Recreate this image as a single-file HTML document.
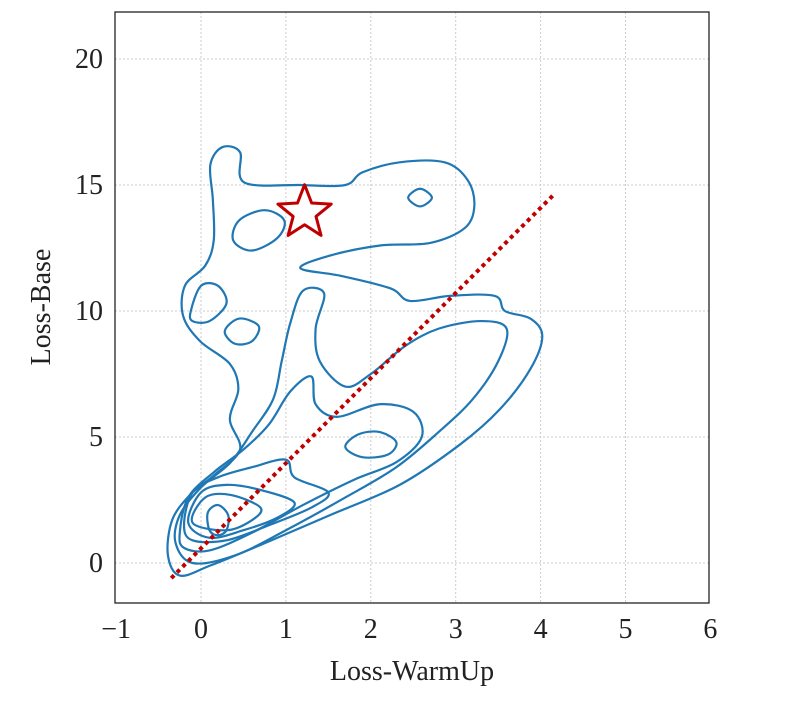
<!DOCTYPE html>
<html><head><meta charset="utf-8"><style>
body{margin:0;background:#fff}
svg text{font-family:"Liberation Serif",serif;fill:#222}
</style></head><body>
<svg id="chart" width="794" height="699" viewBox="0 0 794 699" xmlns="http://www.w3.org/2000/svg">
<g id="grid"></g>
<g id="contours"></g>
<g id="overlay"></g>
<rect x="115" y="12" width="594" height="591" fill="none" stroke="#222" stroke-width="1.3"/>
<g id="ticks"></g>
<text x="412" y="680" font-size="28" text-anchor="middle">Loss-WarmUp</text>
<text transform="translate(50,307) rotate(-90)" font-size="28" text-anchor="middle">Loss-Base</text>
</svg>
<script>
const xTicks=[-1,0,1,2,3,4,5,6];
const yTicks=[0,5,10,15,20];
const lineStart=[-0.35,-0.6];
const lineEnd=[4.15,14.6];
const starPoint=[1.22,13.9];
const c1=[[-0.39,0.32],[-0.34,1.7],[-0.13,2.7],[0.16,3.5],[0.46,4.5],[0.34,5.7],[0.44,6.9],[0.34,7.9],[-0.01,8.8],[-0.21,9.8],[-0.19,11.0],[0.05,11.8],[0.15,12.8],[0.14,14.4],[0.11,15.8],[0.25,16.5],[0.46,16.3],[0.51,15.1],[1.17,15.0],[1.70,15.0],[1.90,15.5],[2.34,15.9],[2.87,15.9],[3.14,15.2],[3.22,14.2],[3.11,13.3],[2.70,12.7],[2.11,12.6],[1.52,12.2],[1.17,11.7],[1.64,11.4],[2.23,10.9],[2.46,10.4],[2.93,10.6],[3.46,10.6],[3.58,10.0],[3.88,9.7],[4.02,9.0],[3.88,7.7],[3.52,6.1],[3.05,4.7],[2.34,3.1],[1.52,1.9],[0.69,0.7],[0.11,-0.1],[-0.25,-0.5]];
const c2=[[-0.3,0.8],[-0.25,1.9],[0.0,3.0],[0.35,4.0],[0.6,5.2],[0.85,6.5],[0.95,8.0],[1.05,9.5],[1.2,10.8],[1.45,10.7],[1.35,9.3],[1.4,8.0],[1.7,7.0],[2.0,7.5],[2.4,8.6],[2.8,9.3],[3.3,9.6],[3.6,9.3],[3.5,8.0],[3.2,6.5],[2.8,5.2],[2.3,3.8],[1.7,2.6],[1.0,1.3],[0.4,0.3],[-0.1,0.0]];
const c3=[[-0.25,1.2],[-0.15,2.6],[0.15,3.6],[0.5,4.5],[0.8,5.5],[1.05,6.8],[1.3,7.4],[1.35,6.3],[1.6,5.8],[2.1,6.3],[2.5,6.0],[2.6,5.0],[2.3,4.0],[1.8,3.3],[1.2,2.3],[0.6,1.2],[0.1,0.5],[-0.2,0.6]];
const c4=[[1.7,4.6],[1.85,5.1],[2.1,5.2],[2.3,4.8],[2.2,4.3],[1.9,4.2]];
const c5=[[-0.2,1.5],[-0.1,2.8],[0.2,3.4],[0.6,3.8],[1.0,4.1],[1.1,3.4],[1.5,2.8],[1.3,2.2],[0.8,1.5],[0.3,0.9],[-0.1,0.9]];
const c6=[[-0.15,1.6],[0.0,2.8],[0.3,3.1],[0.7,2.9],[1.1,2.4],[0.9,1.8],[0.5,1.3],[0.1,1.0]];
const c7=[[-0.1,1.6],[0.05,2.6],[0.35,2.7],[0.7,2.2],[0.6,1.7],[0.3,1.3]];
const c8=[[0.1,1.3],[0.08,2.0],[0.2,2.3],[0.32,1.9],[0.3,1.3],[0.2,1.1]];
const c9=[[0.38,12.8],[0.45,13.6],[0.75,14.0],[0.98,13.6],[0.9,12.9],[0.6,12.4]];
const c10=[[2.44,14.5],[2.58,14.85],[2.72,14.5],[2.58,14.15]];
const c11=[[-0.12,10.0],[0.0,11.0],[0.2,11.0],[0.3,10.3],[0.1,9.6],[-0.1,9.6]];
const c12=[[0.28,9.2],[0.45,9.7],[0.68,9.4],[0.6,8.8],[0.4,8.7]];
const contours=[c1,c2,c3,c4,c5,c6,c7,c8,c9,c10,c11,c12];

const X=v=>201+(v)*84.9;
const Y=v=>563-v*25.2;
const NS="http://www.w3.org/2000/svg";
function mk(t,a,p){const e=document.createElementNS(NS,t);for(const k in a)e.setAttribute(k,a[k]);p.appendChild(e);return e;}
const grid=document.getElementById('grid'),ticks=document.getElementById('ticks');
xTicks.forEach(t=>{
 if(t>-1&&t<6){const l=mk('line',{x1:X(t),x2:X(t),y1:12,y2:603,stroke:'#ccc','stroke-dasharray':'2,2'},grid);
 
 }
 const tx=mk('text',{x:X(t),y:638,'font-size':28,'text-anchor':'middle'},ticks);
 tx.textContent=t<0?'\u2212'+Math.abs(t):t;
 
 
});
yTicks.forEach(t=>{
 const l=mk('line',{x1:115,x2:709,y1:Y(t),y2:Y(t),stroke:'#ccc','stroke-dasharray':'2,2'},grid);
 
 
 const tx=mk('text',{x:103,y:Y(t)+9,'font-size':28,'text-anchor':'end'},ticks);
 tx.textContent=t;
 
 
});
function closedPath(pts){
 const p=pts.map(q=>[X(q[0]),Y(q[1])]);const n=p.length;let d='M'+p[0][0]+','+p[0][1];
 for(let i=0;i<n;i++){const p0=p[(i-1+n)%n],p1=p[i],p2=p[(i+1)%n],p3=p[(i+2)%n];
  d+=` C${p1[0]+(p2[0]-p0[0])/6},${p1[1]+(p2[1]-p0[1])/6} ${p2[0]-(p3[0]-p1[0])/6},${p2[1]-(p3[1]-p1[1])/6} ${p2[0]},${p2[1]}`;}
 return d+'Z';
}
const cg=document.getElementById('contours');
contours.forEach((c,i)=>{
 const p=mk('path',{d:closedPath(c),fill:'none',stroke:'#1f77b4','stroke-width':2.2},cg);
 
 
});
const ov=document.getElementById('overlay');
const ln=mk('line',{x1:X(lineStart[0]),y1:Y(lineStart[1]),x2:X(lineEnd[0]),y2:Y(lineEnd[1]),stroke:'#c00000','stroke-width':4,'stroke-dasharray':'4,4'},ov);


let sp='';const cx=X(starPoint[0]),cy=Y(starPoint[1]);
for(let i=0;i<10;i++){const r=i%2?12:28;const a=-Math.PI/2+i*Math.PI/5;sp+=(cx+r*Math.cos(a))+','+(cy+r*Math.sin(a))+' ';}
const st=mk('polygon',{points:sp,fill:'none',stroke:'#c00000','stroke-width':3,'stroke-linejoin':'round'},ov);


</script>
</body></html>
